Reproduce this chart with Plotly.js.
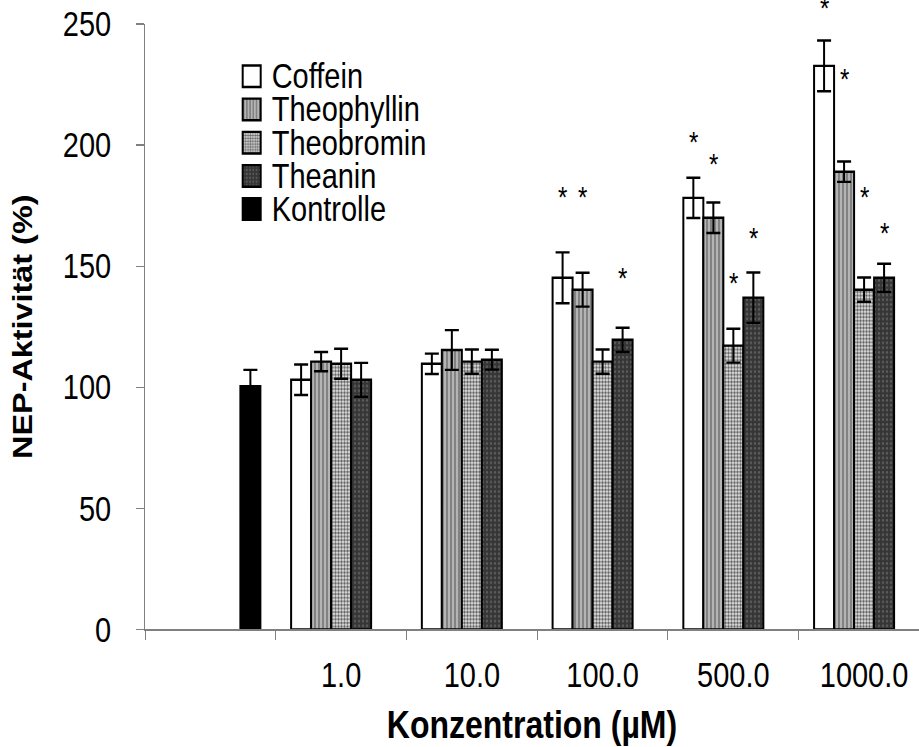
<!DOCTYPE html>
<html>
<head>
<meta charset="utf-8">
<script src="https://cdn.plot.ly/plotly-3.0.1.min.js"></script>
<style>
  html, body { margin: 0; padding: 0; background: #fff; }
  #wrap { width: 919px; height: 747px; overflow: hidden; position: relative; }
  #chart { width: 919px; height: 623px; transform: scaleY(1.19904); transform-origin: 0 0; }
</style>
</head>
<body>
<div id="wrap"><div id="chart"></div></div>
<script>
// ---- data ----
const categories = ['Kontrolle', '1.0', '10.0', '100.0', '500.0', '1000.0'];
const tickLabels = ['', '1.0', '10.0', '100.0', '500.0', '1000.0'];

const coffein        = [null, 103.1, 109.7, 145.2, 178.2, 232.7];
const coffeinErr     = [null, 6.3, 4.2, 10.5, 8.3, 10.5];
const theophyllin    = [null, 110.6, 115.4, 140.3, 170.0, 189.0];
const theophyllinErr = [null, 4.0, 8.2, 7.0, 6.3, 4.2];
const theobromin     = [null, 109.7, 110.6, 110.6, 117.2, 140.3];
const theobrominErr  = [null, 6.2, 5.0, 5.0, 7.0, 5.0];
const theanin        = [null, 103.1, 111.4, 119.6, 137.0, 145.2];
const theaninErr     = [null, 7.0, 4.1, 5.0, 10.4, 5.8];
const kontrolle      = [100.4, null, null, null, null, null];
const kontrolleErr   = [6.8, null, null, null, null, null];

// significance stars (height of the star, in %)
const starCoffein     = [null, null, null, 180.7, 203.8, 259.0];
const starTheophyllin = [null, null, null, 180.7, 194.7, 230.0];
const starTheobromin  = [null, null, null, null, 145.6, 181.0];
const starTheanin     = [null, null, null, 147.7, 164.3, 166.0];

const seriesNames = ['Coffein', 'Theophyllin', 'Theobromin', 'Theanin', 'Kontrolle'];
const yTicks = [0, 50, 100, 150, 200, 250];

// ---- styles ----
const FONT = 'Arial, "Liberation Sans", Helvetica, sans-serif';
const BARGAP = 0.235;
const NSER = 5;
const Y_MIN = 0, Y_MAX = 250;

const styles = [
  { color: '#ffffff', pattern: { shape: '' } },
  { color: '#a0a0a0', pattern: { shape: '|', bgcolor: '#b4b4b4', fgcolor: '#7c7c7c', size: 4, solidity: 0.45, fillmode: 'replace' } },
  { color: '#bdbdbd', pattern: { shape: '.', bgcolor: '#e8e8e8', fgcolor: '#666666', size: 3, solidity: 0.55, fillmode: 'replace' } },
  { color: '#3a3a3a', pattern: { shape: '.', bgcolor: '#363636', fgcolor: '#5c5c5c', size: 4, solidity: 0.25, fillmode: 'replace' } },
  { color: '#000000', pattern: { shape: '' } }
];

const values = [coffein, theophyllin, theobromin, theanin, kontrolle];
const errors = [coffeinErr, theophyllinErr, theobrominErr, theaninErr, kontrolleErr];

const traces = values.map((vals, i) => ({
  type: 'bar',
  name: seriesNames[i],
  x: categories,
  y: vals,
  marker: {
    color: styles[i].color,
    pattern: styles[i].pattern,
    line: { color: '#000', width: 2 }
  },
  error_y: {
    type: 'data', array: errors[i], visible: true,
    color: '#000', thickness: 2, width: 7
  },
  hoverinfo: 'skip'
}));

// star annotations positioned at the centre of each bar slot
const stars = [starCoffein, starTheophyllin, starTheobromin, starTheanin];
const slotW = (1 - BARGAP) / NSER;
const annotations = [];
stars.forEach((arr, si) => {
  arr.forEach((v, ci) => {
    if (v == null) return;
    annotations.push({
      xref: 'x', yref: 'paper',
      x: ci - (1 - BARGAP) / 2 + (si + 0.5) * slotW,
      y: (v - Y_MIN) / (Y_MAX - Y_MIN), text: '*', showarrow: false,
      xanchor: 'center', yanchor: 'middle', yshift: -5,
      font: { family: FONT, size: 24, color: '#000' }
    });
  });
});

const layout = {
  width: 919, height: 623,
  margin: { l: 145, r: 0, t: 20, b: 98 },
  paper_bgcolor: '#fff', plot_bgcolor: '#fff',
  barmode: 'group', bargap: BARGAP, bargroupgap: 0,
  showlegend: true,
  legend: {
    x: 0.112, y: 0.951, xanchor: 'left', yanchor: 'top',
    bgcolor: 'rgba(0,0,0,0)', borderwidth: 0,
    font: { family: FONT, size: 19, color: '#000' },
    traceorder: 'normal'
  },
  font: { family: FONT, color: '#000' },
  xaxis: {
    type: 'category',
    categoryorder: 'array', categoryarray: categories,
    tickmode: 'array', tickvals: categories, ticktext: tickLabels,
    tickson: 'boundaries',
    range: [-0.5, 5.42],
    ticks: 'outside', ticklen: 8, tickcolor: '#808080', tickwidth: 1,
    showline: true, linecolor: '#808080', linewidth: 1,
    showgrid: false, zeroline: false,
    tickfont: { family: FONT, size: 29, color: '#000' },
    ticklabelstandoff: 12,
    title: { text: 'Konzentration (µM)', font: { family: FONT, size: 32, color: '#000', weight: 'bold' }, standoff: 1 },
    automargin: false, fixedrange: true
  },
  yaxis: {
    range: [Y_MIN, Y_MAX],
    tickmode: 'array', tickvals: yTicks,
    ticks: 'outside', ticklen: 8, tickcolor: '#808080', tickwidth: 1,
    showline: true, linecolor: '#808080', linewidth: 1,
    showgrid: false, zeroline: false,
    tickfont: { family: FONT, size: 29, color: '#000' },
    ticklabelstandoff: 19,
    title: { text: 'NEP-Aktivität (%)', font: { family: FONT, size: 27, color: '#000', weight: 'bold' }, standoff: 22 },
    automargin: false, fixedrange: true
  },
  annotations: annotations
};

const gd = document.getElementById('chart');
Plotly.newPlot(gd, traces, layout, { staticPlot: true, displayModeBar: false }).then(() => {
  gd.querySelectorAll('.legend .scrollbox').forEach(s => s.removeAttribute('clip-path'));
  gd.querySelectorAll('.legend').forEach(s => s.removeAttribute('clip-path'));
  gd.querySelectorAll('.legend .legendtext').forEach(t => {
    t.style.fontSize = '29px';
    t.setAttribute('y', 10);
  });
  gd.querySelectorAll('.legend .legendpoints path').forEach(p => {
    p.setAttribute('d', 'M9,9H-9V-9H9Z');
  });
  const xt = gd.querySelector('.xtitle');
  if (xt) {
    const y0 = parseFloat(xt.getAttribute('y'));
    if (!isNaN(y0)) xt.setAttribute('y', y0 + 8);
  }
});
</script>
</body>
</html>
